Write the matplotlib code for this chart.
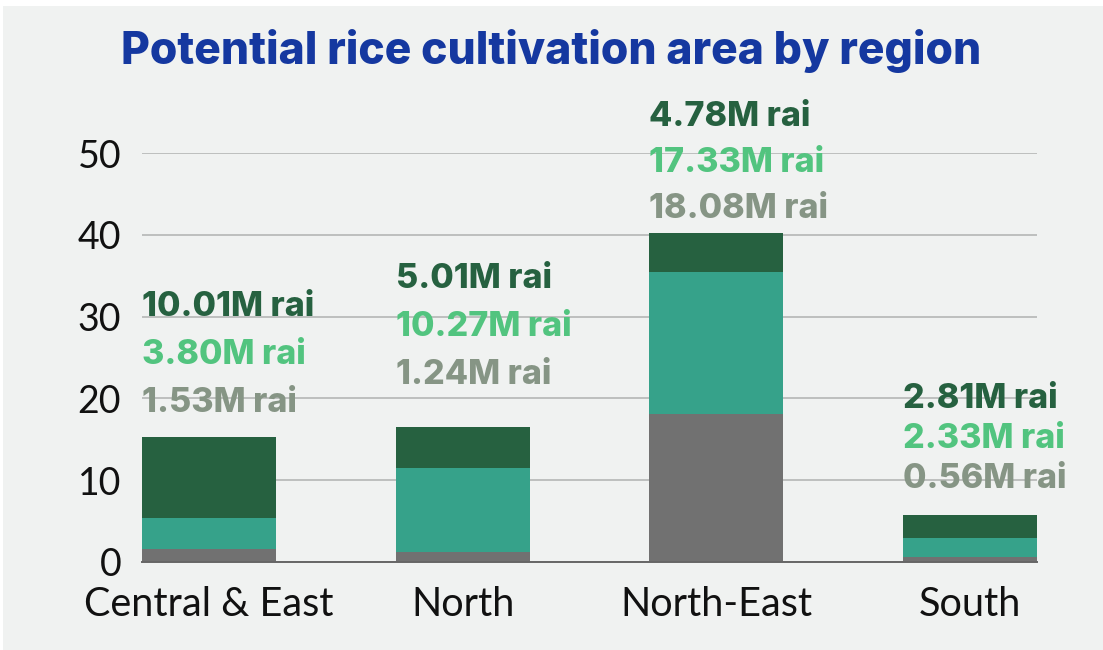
import matplotlib
matplotlib.use("Agg")
import matplotlib.pyplot as plt
from matplotlib.patches import Rectangle
import numpy as np

categories = ["Central & East", "North", "North-East", "South"]
seg_gray = [1.53, 1.24, 18.08, 0.56]
seg_teal = [3.80, 10.27, 17.33, 2.33]
seg_dark = [10.01, 5.01, 4.78, 2.81]
y_ticks = [0, 10, 20, 30, 40, 50]
title = "Potential rice cultivation area by region"

W, H = 1103, 650
fig = plt.figure(figsize=(W / 100, H / 100), dpi=100)
fig.patch.set_facecolor("white")
bg = "#f0f2f1"
fig.add_artist(Rectangle((3 / W, 0), 1 - 3 / W, 1 - 6 / H, transform=fig.transFigure,
                         facecolor=bg, edgecolor="none", zorder=-10))

ax_l, ax_r, ax_b, ax_t = 142, 1037, 562, 153
ax = fig.add_axes([ax_l / W, 1 - ax_b / H, (ax_r - ax_l) / W, (ax_b - ax_t) / H])
ax.set_facecolor(bg)
ax.patch.set_alpha(0)

x = np.arange(len(categories))
width = 0.528
c_gray, c_teal, c_dark = "#717171", "#36a28a", "#266140"
ax.bar(x, seg_gray, width, color=c_gray, zorder=3)
ax.bar(x, seg_teal, width, bottom=seg_gray, color=c_teal, zorder=3)
bot2 = np.array(seg_gray) + np.array(seg_teal)
ax.bar(x, seg_dark, width, bottom=bot2, color=c_dark, zorder=3)

ax.set_xlim(-width / 2, len(categories) - 1 + width / 2)
ax.set_ylim(0, 50)
ax.set_yticks(y_ticks)
ax.yaxis.grid(True, color="#b4b6b5", linewidth=1.2, zorder=0)
for s in ["top", "right", "left"]:
    ax.spines[s].set_visible(False)
ax.spines["bottom"].set_color("#666666")
ax.spines["bottom"].set_linewidth(1.4)
ax.spines["bottom"].set_zorder(4)
ax.tick_params(axis="y", length=0, labelsize=27, labelcolor="#111111", pad=15)
ax.tick_params(axis="x", length=0, labelsize=28.5, labelcolor="#111111", pad=17)
ax.set_xticks(x)
ax.set_xticklabels(categories)
for lab in ax.get_xticklabels() + ax.get_yticklabels():
    lab.set_fontfamily("Lato")

# value labels (bottom label offset above bar top and line spacing, in pixels)
lab_off = [34, 52, 24, 36]
lab_gap = [48, 48, 46, 40]
lab_colors = [c_dark, "#52c47f", "#869585"]
totals = bot2 + np.array(seg_dark)
for i in range(len(categories)):
    vals = [seg_dark[i], seg_teal[i], seg_gray[i]]
    for j, (v, col) in enumerate(zip(vals, lab_colors)):
        dy = lab_off[i] + (2 - j) * lab_gap[i]
        ax.annotate(f"{v:.2f}M rai", xy=(x[i] - width / 2, totals[i]),
                    xytext=(0, dy * 0.72), textcoords="offset points",
                    ha="left", va="center", fontsize=24.5, fontweight="heavy",
                    fontfamily="Inter", color=col, annotation_clip=False, zorder=5)

fig.text(551 / W, 1 - 51 / H, title, ha="center", va="center", fontsize=32,
         fontweight="heavy", fontfamily="Inter", color="#1538a0")

fig.savefig("out.png", dpi=100, facecolor=fig.get_facecolor())
